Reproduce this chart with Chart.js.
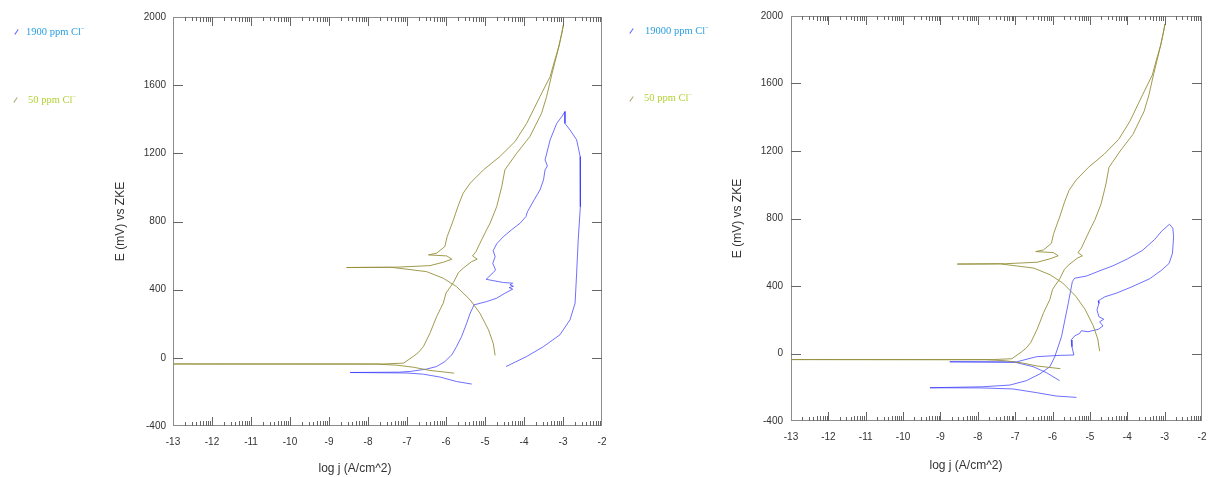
<!DOCTYPE html>
<html>
<head>
<meta charset="utf-8">
<script src="https://cdn.jsdelivr.net/npm/chart.js@4.4.0/dist/chart.umd.min.js"></script>
<style>
  body { margin: 0; background: #fff; width: 1210px; height: 477px; position: relative; overflow: hidden; }
  canvas { position: absolute; top: 0; }
  #left { left: 0; }
  #right { left: 605px; }
  .leg { position: absolute; font-family: "Liberation Serif", "Times New Roman", serif; font-size: 10.5px; line-height: 12px; white-space: nowrap; }
  .leg sup { font-size: 7px; vertical-align: 4px; line-height: 0; }
  .mk { position: absolute; width: 0; height: 6px; border-left: 1px solid; transform: rotate(35deg); }
  .xt { position: absolute; font-family: "Liberation Sans", Arial, sans-serif; font-size: 12px; color: #333; white-space: nowrap; transform: translate(-50%, -50%); }
</style>
</head>
<body>
<canvas id="left" width="615" height="477"></canvas>
<canvas id="right" width="605" height="477"></canvas>

<div class="mk" style="left:16px;top:29px;color:#5a5aff"></div>
<div class="leg" style="left:26px;top:26px;color:#2a9fe0">1900 ppm Cl<sup>−</sup></div>
<div class="mk" style="left:15px;top:97px;color:#a8a268"></div>
<div class="leg" style="left:28px;top:94px;color:#b4d235">50 ppm Cl<sup>−</sup></div>

<div class="mk" style="left:631px;top:28px;color:#5a5aff"></div>
<div class="leg" style="left:645px;top:25px;color:#2a9fe0">19000 ppm Cl<sup>−</sup></div>
<div class="mk" style="left:631px;top:96px;color:#a8a268"></div>
<div class="leg" style="left:644px;top:92px;color:#b4d235">50 ppm Cl<sup>−</sup></div>

<div class="xt" style="left:355px;top:468px">log j (A/cm^2)</div>
<div class="xt" style="left:966px;top:465px">log j (A/cm^2)</div>

<script>
// axis ticks
const xTicks = [-13, -12, -11, -10, -9, -8, -7, -6, -5, -4, -3, -2];
const yTicks = [-400, 0, 400, 800, 1200, 1600, 2000];

// 50 ppm Cl- sweep (same curve in both panels), in scan order
const logj50 = [-5.79, -6.41, -6.84, -7.26, -7.8, -13, -7.6, -7.09, -6.84, -6.71, -6.58, -6.41, -6.24, -6.07, -6.0, -5.81,
  -5.68, -5.56, -5.34, -5.20, -5.32, -5.23, -5.13, -4.96, -4.87, -4.70, -4.57, -4.49, -4.40, -4.19, -3.85, -3.55, -3.42,
  -3.29, -3.16, -3.03, -2.99, -3.10, -3.22, -3.33, -3.59, -3.93, -4.23, -4.62, -5.04, -5.38, -5.56, -5.68, -5.81, -5.97,
  -6.03, -6.24, -6.45, -5.98, -5.85, -6.07, -6.41, -7.26, -8.55, -7.4, -6.50, -6.07, -5.73, -5.38, -5.13, -4.91, -4.79, -4.74];
const e50 = [-90, -74, -55, -43, -37, -36, -36, -31, 8, 31, 66, 145, 242, 321, 380, 442,
  500, 526, 565, 579, 598, 624, 672, 751, 790, 887, 1005, 1103, 1132, 1200, 1298, 1435, 1533,
  1660, 1777, 1904, 1953, 1830, 1740, 1650, 1533, 1376, 1269, 1181, 1103, 1025, 966, 897, 809, 711,
  653, 614, 604, 598, 579, 561, 541, 532, 530, 531, 506, 467, 418, 340, 262, 164, 86, 14];

// 1900 ppm Cl- (left panel)
const logj1900 = [-5.34, -5.73, -6.15, -6.58, -7.0, -8.46, -7.2, -6.92, -6.50, -6.24, -6.03, -5.85, -5.73, -5.60, -5.47,
  -5.38, -5.28, -4.96, -4.70, -4.49, -4.29, -4.38, -4.27, -4.36, -4.29, -4.53, -4.79, -4.97, -4.79, -4.73, -4.80, -4.74,
  -4.79, -4.70, -4.53, -4.32, -4.10, -3.95, -3.91, -3.74, -3.59, -3.50, -3.46, -3.40, -3.46, -3.33, -3.16, -3.02, -2.95,
  -2.95, -2.82, -2.65, -2.56, -2.55, -2.56, -2.61, -2.65, -2.69, -2.82, -3.08, -3.50, -3.93, -4.46];
const e1900 = [-154, -139, -113, -96, -89, -86, -84, -80, -66, -51, -22, 18, 66, 125, 203,
  262, 311, 330, 350, 379, 403, 412, 420, 428, 438, 442, 453, 461, 500, 516, 555, 594,
  629, 669, 711, 751, 790, 829, 858, 927, 985, 1044, 1103, 1126, 1161, 1279, 1376, 1419, 1445,
  1376, 1337, 1279, 1181, 1063, 887, 692, 497, 321, 223, 135, 66, 8, -51];

// 19000 ppm Cl- (right panel)
const logj19000 = [-5.36, -5.90, -6.43, -7.06, -7.9, -9.28, -7.86, -7.14, -6.70, -6.34, -6.07, -5.94, -5.85, -5.76, -5.67,
  -5.58, -5.47, -5.41, -5.09, -4.74, -4.38, -4.0, -3.6, -3.27, -3.08, -2.87, -2.78, -2.76, -2.79, -2.88, -3.08, -3.4,
  -3.9, -4.3, -4.6, -4.72, -4.78, -4.76, -4.81, -4.76, -4.63, -4.74, -4.65, -4.78, -5.05, -5.23, -5.27, -5.41, -5.50,
  -5.48, -5.43, -5.8, -6.43, -6.97, -8.75, -7.0, -6.52, -6.16, -5.81];
const e19000 = [-260, -252, -232, -210, -204, -203, -197, -187, -161, -121, -78, -19, 40, 100, 199,
  297, 426, 446, 459, 490, 520, 560, 610, 675, 725, 766, 742, 692, 594, 534, 494, 443,
  393, 357, 336, 320, 312, 297, 258, 218, 203, 188, 163, 143, 129, 135, 120, 104, 80,
  40, -9, -11, -19, -50, -49, -52, -78, -114, -161];

const pts = (xs, ys) => xs.map((v, i) => ({ x: v, y: ys[i] }));

const OLIVE = 'rgba(150,144,60,0.9)';
const BLUE = 'rgba(50,50,255,0.7)';

const frameTicks = {
  id: 'frameTicks',
  afterDatasetsDraw(chart) {
    const { ctx, chartArea: a, scales: { x, y } } = chart;
    ctx.save();
    ctx.lineWidth = 1;
    ctx.strokeStyle = '#8c8c8c';
    ctx.strokeRect(Math.round(a.left) + 0.5, Math.round(a.top) + 0.5,
      Math.round(a.right - a.left) - 1, Math.round(a.bottom - a.top) - 1);
    ctx.strokeStyle = '#666';
    ctx.beginPath();
    const vt = (v, len) => {
      const px = Math.round(x.getPixelForValue(v)) + 0.5;
      ctx.moveTo(px, a.bottom); ctx.lineTo(px, a.bottom - len);
      ctx.moveTo(px, a.top); ctx.lineTo(px, a.top + len);
    };
    for (let d = xTicks[0]; d < xTicks[xTicks.length - 1]; d++) {
      for (let k = 2; k <= 9; k++) vt(d + Math.log10(k), k < 5 ? 4 : 5);
    }
    xTicks.slice(1, -1).forEach(v => vt(v, 9));
    yTicks.slice(1, -1).forEach(v => {
      const py = Math.round(y.getPixelForValue(v)) + 0.5;
      ctx.moveTo(a.left, py); ctx.lineTo(a.left + 10, py);
      ctx.moveTo(a.right, py); ctx.lineTo(a.right - 10, py);
    });
    ctx.stroke();
    ctx.restore();
  }
};

const tickFont = { family: '"Liberation Sans", Arial, sans-serif', size: 10 };

function makeChart(id, blueLabel, bx, by, g) {
  return new Chart(document.getElementById(id), {
    type: 'scatter',
    data: {
      datasets: [
        { label: '50 ppm Cl-', data: pts(logj50, e50), showLine: true, borderColor: OLIVE, borderWidth: 1 },
        { label: blueLabel, data: pts(bx, by), showLine: true, borderColor: BLUE, borderWidth: 1 }
      ]
    },
    options: {
      responsive: false,
      animation: false,
      devicePixelRatio: 1,
      layout: { padding: { top: g.top, right: g.right, left: 0, bottom: 0 } },
      elements: { point: { radius: 0 }, line: { tension: 0 } },
      plugins: { legend: { display: false }, tooltip: { enabled: false } },
      scales: {
        x: {
          type: 'linear', min: -13, max: -2,
          afterFit: s => { s.height = g.xh; s.paddingLeft = 0; s.paddingRight = 0; },
          afterBuildTicks: s => { s.ticks = xTicks.map(v => ({ value: v })); },
          grid: { display: false, drawTicks: false, tickLength: 0 },
          border: { display: false },
          ticks: { padding: 10, font: tickFont, color: '#333', maxRotation: 0, autoSkip: false, callback: v => String(v) }
        },
        y: {
          type: 'linear', min: -400, max: 2000,
          afterFit: s => { s.width = g.left; s.paddingTop = 0; s.paddingBottom = 0; },
          afterBuildTicks: s => { s.ticks = yTicks.map(v => ({ value: v })); },
          grid: { display: false, drawTicks: false, tickLength: 0 },
          border: { display: false },
          ticks: { padding: g.yp, font: tickFont, color: '#333', autoSkip: false, callback: v => String(v) },
          title: {
            display: true, text: 'E (mV) vs ZKE', color: '#333',
            font: { family: '"Liberation Sans", Arial, sans-serif', size: 12 },
            padding: { top: g.yt, bottom: 0 }
          }
        }
      }
    },
    plugins: [frameTicks]
  });
}

makeChart('left', '1900 ppm Cl-', logj1900, e1900, { top: 17, right: 13, xh: 51, left: 173, yp: 7, yt: 113 });
makeChart('right', '19000 ppm Cl-', logj19000, e19000, { top: 16, right: 8, xh: 56, left: 186, yp: 8, yt: 125 });
</script>
</body>
</html>
